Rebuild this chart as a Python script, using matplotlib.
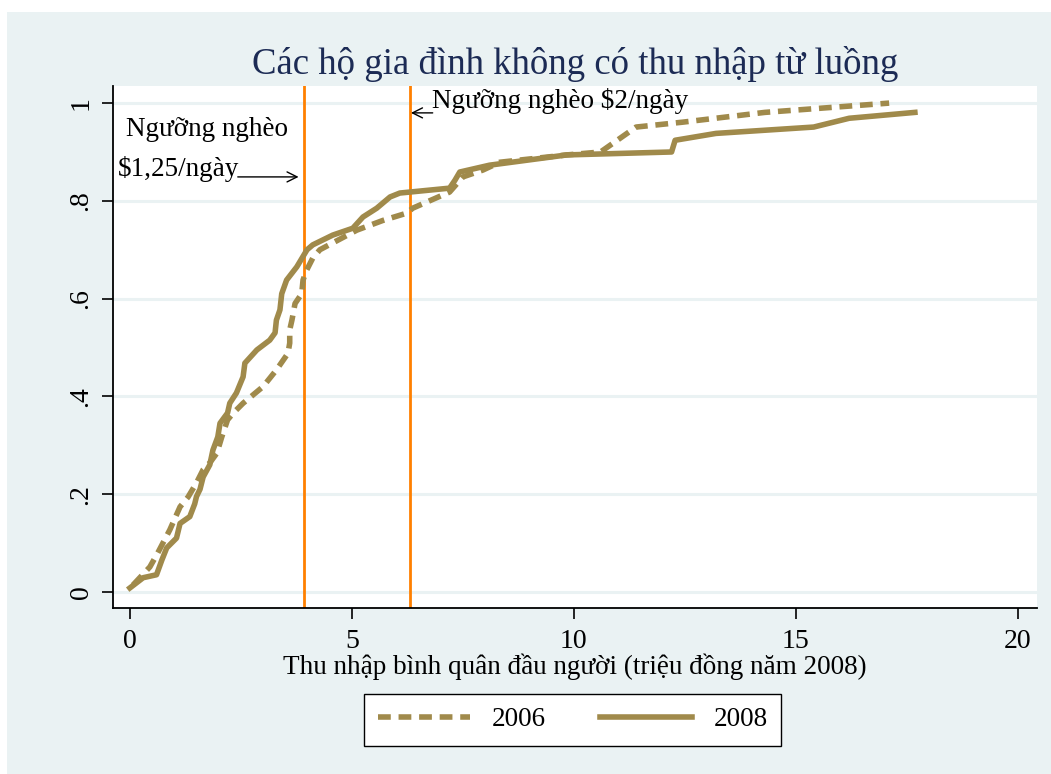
import matplotlib
matplotlib.use("Agg")
import matplotlib.pyplot as plt
from matplotlib.patches import Rectangle

# ---- data ----
x_2008 = [0.0, 0.3, 0.6, 0.72, 0.83, 1.05, 1.13, 1.35, 1.46, 1.5, 1.58, 1.65, 1.8, 1.87, 1.98,
          2.03, 2.2, 2.25, 2.4, 2.55, 2.59, 2.86, 3.15, 3.27, 3.3, 3.38, 3.42, 3.53, 3.76, 3.99,
          4.12, 4.57, 5.02, 5.25, 5.56, 5.86, 6.08, 7.2, 7.32, 7.43, 8.1, 9.84, 12.2, 12.28,
          13.2, 15.4, 16.2, 17.68]
y_2008 = [0.008, 0.029, 0.035, 0.065, 0.09, 0.11, 0.14, 0.154, 0.18, 0.195, 0.21, 0.235, 0.26, 0.29, 0.317,
          0.345, 0.366, 0.386, 0.407, 0.44, 0.468, 0.495, 0.515, 0.53, 0.556, 0.577, 0.61, 0.638, 0.665, 0.70,
          0.71, 0.73, 0.744, 0.767, 0.785, 0.808, 0.816, 0.826, 0.842, 0.859, 0.873, 0.894, 0.90, 0.924,
          0.938, 0.951, 0.969, 0.981]

x_2006 = [0.07, 0.45, 0.63, 0.9, 1.13, 1.31, 1.5, 1.65, 1.8, 1.96, 2.07, 2.2, 2.33, 2.55, 3.0,
          3.3, 3.56, 3.6, 3.6, 3.65, 3.72, 3.87, 3.9, 3.98, 4.12, 4.28, 4.57, 5.11, 5.7, 6.24,
          6.37, 7.2, 7.5, 7.95, 8.33, 9.84, 10.6, 11.4, 12.45, 14.3, 17.1]
y_2006 = [0.014, 0.051, 0.08, 0.127, 0.174, 0.194, 0.223, 0.25, 0.264, 0.284, 0.317, 0.352, 0.366, 0.386, 0.42,
          0.454, 0.488, 0.509, 0.536, 0.556, 0.59, 0.61, 0.638, 0.658, 0.683, 0.70, 0.714, 0.74, 0.76, 0.775,
          0.785, 0.818, 0.849, 0.863, 0.879, 0.894, 0.90, 0.951, 0.961, 0.981, 1.0]

poverty_lines = [3.92, 6.31]
x_ticks = [0, 5, 10, 15, 20]
y_ticks = [0, 0.2, 0.4, 0.6, 0.8, 1.0]
y_tick_labels = ["0", ".2", ".4", ".6", ".8", "1"]
title = "Các hộ gia đình không có thu nhập từ luồng"
xlabel = "Thu nhập bình quân đầu người (triệu đồng năm 2008)"
series_labels = ["2006", "2008"]

# ---- style ----
plt.rcParams['font.family'] = ['Liberation Serif', 'DejaVu Serif']
BG = "#EAF2F3"
OLIVE = "#A08A4B"
ORANGE = "#FF8000"

fig = plt.figure(figsize=(10.51, 7.74), dpi=100)
fig.patch.set_facecolor("white")
fig.patches.append(Rectangle((7 / 1051, 0), 1 - 7 / 1051, (774 - 12) / 774,
                             transform=fig.transFigure, facecolor=BG, edgecolor="none", zorder=-10))

ax = fig.add_axes([113 / 1051, 1 - 608 / 774, (1037 - 113) / 1051, (608 - 86) / 774])
ax.set_facecolor("white")

for yt in y_ticks:
    ax.axhline(yt, color=BG, lw=2.2, zorder=0)

for xv in poverty_lines:
    ax.axvline(xv, color=ORANGE, lw=2.0, zorder=1)

ax.plot(x_2006, y_2006, color=OLIVE, lw=4.0, ls=(0, (2.3, 1.4)), solid_capstyle="butt",
        dash_capstyle="butt", label=series_labels[0], zorder=3)
ax.plot(x_2008, y_2008, color=OLIVE, lw=4.0, ls="-", solid_joinstyle="round",
        label=series_labels[1], zorder=3)

ax.set_xlim(-0.38, 20.43)
ax.set_ylim(-0.033, 1.035)

ax.set_xticks(x_ticks)
ax.set_xticklabels([str(t) for t in x_ticks], fontsize=20)
ax.set_yticks(y_ticks)
ax.set_yticklabels(y_tick_labels, fontsize=20, rotation=90, va="center")
ax.tick_params(axis="x", length=8, width=1.2, color="black", pad=7)
ax.tick_params(axis="y", length=8, width=1.2, color="black", pad=6)

for side in ["top", "right"]:
    ax.spines[side].set_visible(False)
for side in ["left", "bottom"]:
    ax.spines[side].set_linewidth(1.3)
    ax.spines[side].set_color("black")

ax.set_title(title, fontsize=26.5, color="#1C2B55", pad=9)
ax.set_xlabel(xlabel, fontsize=19.5, labelpad=0)

# annotations
ax.text(1.74, 0.945, "Ngưỡng nghèo", fontsize=19.5, ha="center", va="center")
ax.text(-0.27, 0.866, "$1,25/ngày", fontsize=19.5, ha="left", va="center")
ax.annotate("", xy=(3.80, 0.849), xytext=(2.43, 0.849),
            arrowprops=dict(arrowstyle="->", color="black", lw=1.0, shrinkA=0, shrinkB=0,
                            mutation_scale=18))
ax.text(6.8, 1.005, "Ngưỡng nghèo $2/ngày", fontsize=19.5, ha="left", va="center")
ax.annotate("", xy=(6.33, 0.98), xytext=(6.82, 0.98),
            arrowprops=dict(arrowstyle="->", color="black", lw=1.0, shrinkA=0, shrinkB=0,
                            mutation_scale=18))

leg = fig.legend(loc="center", bbox_to_anchor=((367 + 778) / 2 / 1051, 1 - 720 / 774),
                 ncol=2, fontsize=19.5, frameon=True, fancybox=False, handlelength=3.4,
                 columnspacing=2.0, borderpad=0.5, handletextpad=0.8, framealpha=1,
                 borderaxespad=0)
leg.get_frame().set_edgecolor("black")
leg.get_frame().set_linewidth(1.0)
leg.get_frame().set_facecolor("white")

fig.savefig("out.png", dpi=100, facecolor=fig.get_facecolor())
